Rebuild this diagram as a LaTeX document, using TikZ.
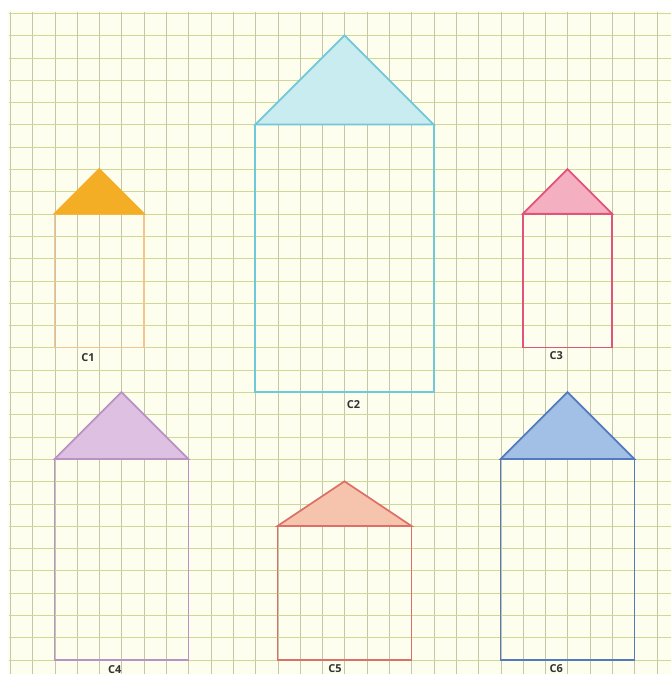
\documentclass[tikz,border=0pt]{standalone}
\usepackage{fontspec}
\setsansfont{Open Sans}
\definecolor{paper}{RGB}{254,254,238}
\definecolor{vline}{RGB}{196,198,170}
\definecolor{hline}{RGB}{208,216,150}
\definecolor{oFill}{RGB}{244,174,38}
\definecolor{oLine}{RGB}{246,196,140}
\definecolor{cFill}{RGB}{200,236,240}
\definecolor{cLine}{RGB}{112,200,216}
\definecolor{pFill}{RGB}{244,176,192}
\definecolor{pLine}{RGB}{224,84,124}
\definecolor{lFill}{RGB}{222,192,226}
\definecolor{lLine}{RGB}{184,146,194}
\definecolor{sFill}{RGB}{246,196,172}
\definecolor{sLine}{RGB}{220,112,104}
\definecolor{bFill}{RGB}{162,192,230}
\definecolor{bLine}{RGB}{84,122,190}
\tikzset{
  house/.style={line width=1.1pt, line join=miter},
  gridv/.style={vline, line width=0.65pt},
  gridh/.style={hline, line width=0.65pt},
  lbl/.style={font=\sffamily\bfseries\fontsize{7}{8}\selectfont, text=black!80, inner sep=0pt}
}
\begin{document}
\begin{tikzpicture}[x=0.5cm,y=0.5cm]
\useasboundingbox (-0.448,-29.64) rectangle (29.64,0.583);
\fill[white] (-0.448,-29.64) rectangle (29.64,0.583);
\fill[paper] (-0.1,-29.64) rectangle (29.64,0.1);
\foreach \i in {0,...,29} {
  \draw[gridv] (\i+0.02,0.05) -- (\i+0.02,-29.64);
  \draw[gridh] (-0.05,-\i-0.02) -- (29.64,-\i-0.02);
}
% C1
\fill[oFill] (2,-9) -- (4,-7) -- (6,-9) -- cycle;
\draw[house, oLine] (2,-9) rectangle (6,-15);
\draw[house, oFill] (2,-9) -- (4,-7) -- (6,-9) -- cycle;
\node[lbl] (c1) at (3.5,-15.45) {C1};
% C2
\filldraw[house, draw=cLine, fill=cFill] (11,-5) -- (15,-1) -- (19,-5) -- cycle;
\draw[house, cLine] (11,-5) rectangle (19,-17);
\node[lbl] (c2) at (15.4,-17.55) {C2};
% C3
\filldraw[house, draw=pLine, fill=pFill] (23,-9) -- (25,-7) -- (27,-9) -- cycle;
\draw[house, pLine] (23,-9) rectangle (27,-15);
\node[lbl] (c3) at (24.5,-15.35) {C3};
% C4
\filldraw[house, draw=lLine, fill=lFill] (2,-20) -- (5,-17) -- (8,-20) -- cycle;
\draw[house, lLine] (2,-20) rectangle (8,-29);
\node[lbl] (c4) at (4.7,-29.42) {C4};
% C5
\filldraw[house, draw=sLine, fill=sFill] (12,-23) -- (15,-21) -- (18,-23) -- cycle;
\draw[house, sLine] (12,-23) rectangle (18,-29);
\node[lbl] (c5) at (14.57,-29.4) {C5};
% C6
\filldraw[house, draw=bLine, fill=bFill] (22,-20) -- (25,-17) -- (28,-20) -- cycle;
\draw[house, bLine] (22,-20) rectangle (28,-29);
\node[lbl] (c6) at (24.5,-29.4) {C6};
\end{tikzpicture}
\end{document}
